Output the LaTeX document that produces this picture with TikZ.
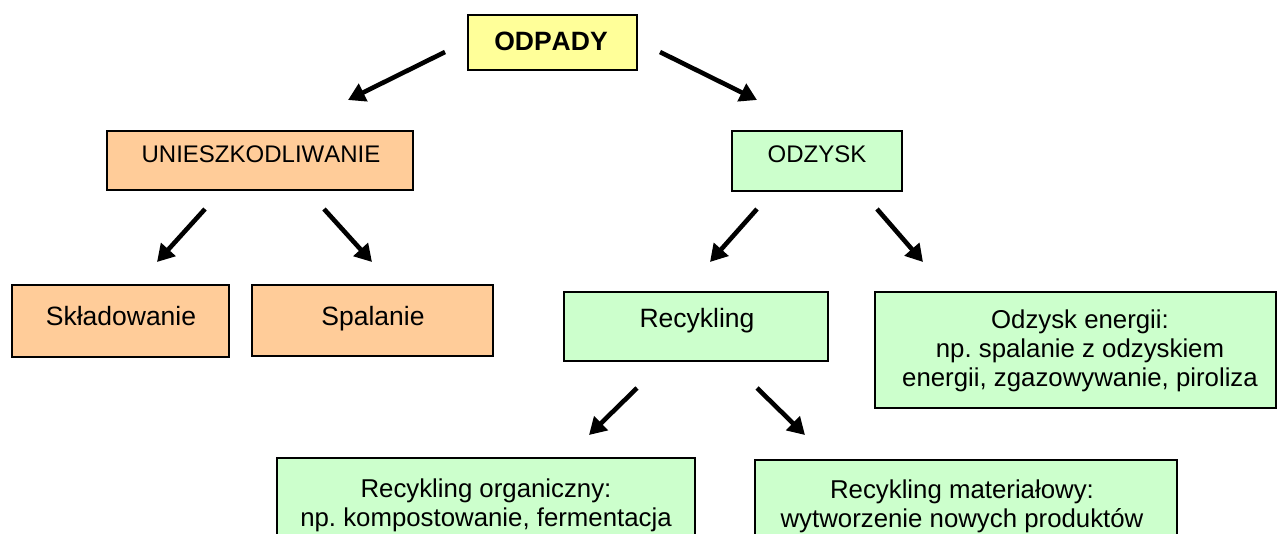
\documentclass[tikz,border=0pt]{standalone}
\usepackage{fontspec}
\setmainfont[Kerning=Off]{Liberation Sans}
\frenchspacing
\usetikzlibrary{arrows.meta}
\definecolor{cyellow}{HTML}{FFFF99}
\definecolor{corange}{HTML}{FFCC99}
\definecolor{cgreen}{HTML}{CCFFCC}
\tikzset{
  boxnode/.style={draw=black, line width=1.5pt, inner sep=0pt, outer sep=0pt},
  txt/.style={anchor=base, inner sep=0pt, align=center, font=\fontsize{25.8}{28.8}\selectfont},
  onetxt/.style={anchor=base, inner sep=0pt, font=\fontsize{26.5}{30}\selectfont},
  smalltxt/.style={anchor=base, inner sep=0pt, font=\fontsize{24}{27}\selectfont},
  bigtxt/.style={anchor=base, inner sep=0pt, font=\fontsize{26.5}{30}\selectfont\bfseries},
  bigarrow/.style={line width=4.6pt, -{Triangle[length=17pt,width=19pt]}}
}
\begin{document}
\begin{tikzpicture}[x=1pt,y=-1pt]
\useasboundingbox (0,0) rectangle (1277,533);
\clip (0,0) rectangle (1277,533);
% boxes
\node[boxnode, fill=cyellow, minimum width=169pt, minimum height=55pt] (odpady) at (552.5,42.5) {};
\node[boxnode, fill=corange, minimum width=306pt, minimum height=59pt] (uniesz) at (260,160.5) {};
\node[boxnode, fill=cgreen, minimum width=170pt, minimum height=60pt] (odzysk) at (817,161) {};
\node[boxnode, fill=corange, minimum width=217pt, minimum height=72pt] (sklad) at (120.5,321) {};
\node[boxnode, fill=corange, minimum width=241pt, minimum height=71pt] (spal) at (372.5,320.5) {};
\node[boxnode, fill=cgreen, minimum width=264pt, minimum height=69pt] (recyk) at (696,326.5) {};
\node[boxnode, fill=cgreen, minimum width=401pt, minimum height=116pt] (energ) at (1075.5,350) {};
\node[boxnode, fill=cgreen, minimum width=418pt, minimum height=102pt] (organ) at (486,509) {};
\node[boxnode, fill=cgreen, minimum width=422pt, minimum height=100pt] (mater) at (966,510) {};
% texts
\node[bigtxt] (t-odpady) at (551,50) {ODPADY};
\node[smalltxt] (t-uniesz) at (261,162) {UNIESZKODLIWANIE};
\node[smalltxt] (t-odzysk) at (817,162) {ODZYSK};
\node[onetxt] (t-sklad) at (121,325) {Składowanie};
\node[onetxt] (t-spal) at (373,325) {Spalanie};
\node[onetxt] (t-recyk) at (697,327) {Recykling};
\node[txt] (t-energ) at (1080,386) {Odzysk energii:\\np. spalanie z odzyskiem\\energii, zgazowywanie, piroliza};
\node[txt] (t-organ) at (486,526) {Recykling organiczny:\\np. kompostowanie, fermentacja};
\node[txt] (t-mater) at (962,527) {Recykling materiałowy:\\wytworzenie nowych produktów};
% arrow end points
\coordinate (a1s) at (445,52);  \coordinate (a1e) at (348,100);
\coordinate (a2s) at (660,52);  \coordinate (a2e) at (757,100);
\coordinate (a3s) at (205,209); \coordinate (a3e) at (157,262);
\coordinate (a4s) at (324,209); \coordinate (a4e) at (372,262);
\coordinate (a5s) at (757,209); \coordinate (a5e) at (710,262);
\coordinate (a6s) at (877,209); \coordinate (a6e) at (923,262);
\coordinate (a7s) at (637,388); \coordinate (a7e) at (589,435);
\coordinate (a8s) at (757,388); \coordinate (a8e) at (805,435);
\draw[bigarrow] (a1s) -- (a1e);
\draw[bigarrow] (a2s) -- (a2e);
\draw[bigarrow] (a3s) -- (a3e);
\draw[bigarrow] (a4s) -- (a4e);
\draw[bigarrow] (a5s) -- (a5e);
\draw[bigarrow] (a6s) -- (a6e);
\draw[bigarrow] (a7s) -- (a7e);
\draw[bigarrow] (a8s) -- (a8e);
\end{tikzpicture}
\end{document}
